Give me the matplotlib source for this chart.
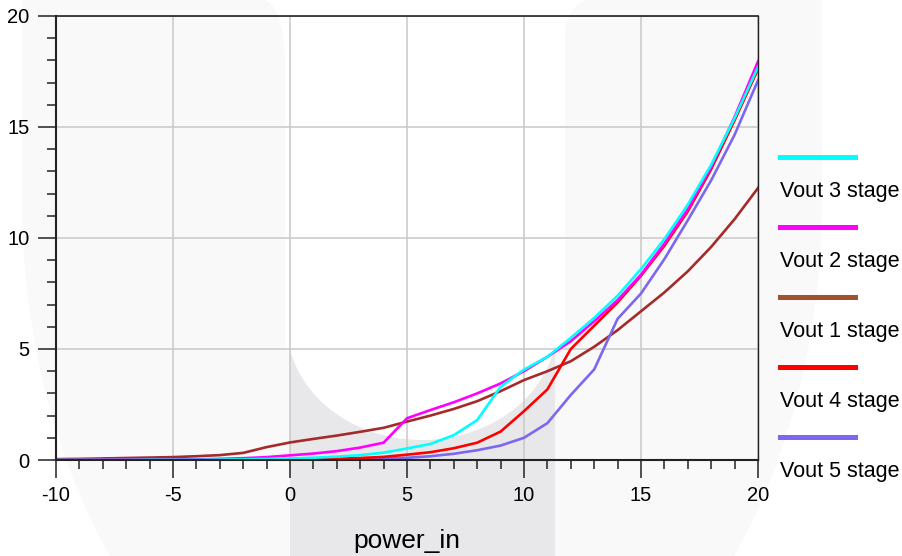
import matplotlib
matplotlib.use("Agg")
import matplotlib.pyplot as plt
from matplotlib.patches import Ellipse, Rectangle
from matplotlib.lines import Line2D

plt.rcParams['font.family'] = ['Liberation Sans', 'DejaVu Sans']
plt.rcParams['axes.unicode_minus'] = False

# data
power_in = list(range(-10, 21))

vout1 = [0.04, 0.05, 0.07, 0.09, 0.11, 0.13, 0.17, 0.22, 0.32, 0.58,
         0.79, 0.95, 1.1, 1.27, 1.45, 1.73, 2.0, 2.3, 2.65, 3.1,
         3.6, 4.0, 4.45, 5.1, 5.85, 6.7, 7.55, 8.5, 9.6, 10.85, 12.25]
vout2 = [0.0, 0.0, 0.01, 0.01, 0.01, 0.02, 0.03, 0.05, 0.08, 0.13,
         0.21, 0.29, 0.4, 0.56, 0.78, 1.88, 2.25, 2.6, 3.0, 3.45,
         4.0, 4.65, 5.35, 6.25, 7.2, 8.35, 9.75, 11.3, 13.2, 15.45, 17.95]
vout3 = [0.0, 0.0, 0.0, 0.0, 0.01, 0.01, 0.01, 0.02, 0.03, 0.05,
         0.07, 0.1, 0.15, 0.22, 0.33, 0.52, 0.72, 1.12, 1.8, 3.3,
         4.07, 4.65, 5.5, 6.4, 7.4, 8.6, 9.95, 11.5, 13.3, 15.4, 17.7]
vout4 = [0.0, 0.0, 0.0, 0.0, 0.0, 0.01, 0.01, 0.01, 0.02, 0.02,
         0.03, 0.04, 0.06, 0.09, 0.14, 0.24, 0.35, 0.53, 0.78, 1.28,
         2.2, 3.18, 5.0, 6.05, 7.1, 8.3, 9.65, 11.2, 13.1, 15.3, 17.6]
vout5 = [0.0, 0.0, 0.0, 0.0, 0.0, 0.0, 0.0, 0.01, 0.01, 0.01,
         0.01, 0.02, 0.03, 0.05, 0.07, 0.1, 0.17, 0.28, 0.44, 0.65,
         1.0, 1.66, 2.93, 4.08, 6.36, 7.5, 9.05, 10.8, 12.6, 14.65, 17.1]

series = [
    ("Vout 3 stage", vout3, "#00ffff", "#00ffff"),
    ("Vout 2 stage", vout2, "#ff00ff", "#ff00ff"),
    ("Vout 1 stage", vout1, "#a52a2a", "#a0522d"),
    ("Vout 4 stage", vout4, "#ff0000", "#ff0000"),
    ("Vout 5 stage", vout5, "#7b68ee", "#7b68ee"),
]
draw_order = [2, 4, 3, 1, 0]

W, H = 902, 556
fig = plt.figure(figsize=(W / 100, H / 100), dpi=100)

# faint watermark in the background (pixel coords)
bg = fig.add_axes([0, 0, 1, 1], zorder=-1)
bg.set_xlim(0, W)
bg.set_ylim(H, 0)
bg.axis("off")
light = "#f9f9f9"
bg.add_patch(Rectangle((22, -10), 800, 210, color=light, lw=0))
bg.add_patch(Ellipse((422, 200), 800, 1138, color=light, lw=0))
bg.add_patch(Rectangle((263, -10), 327, 360, color="white", lw=0))
# rounded inner top corners of the two bars
bg.add_patch(Rectangle((255, 60), 30, 300, color=light, lw=0))
bg.add_patch(Ellipse((263, 60), 44, 120, color=light, lw=0))
bg.add_patch(Rectangle((565, 35), 30, 320, color=light, lw=0))
bg.add_patch(Ellipse((590, 35), 50, 70, color=light, lw=0))
bg.add_patch(Rectangle((290, 340), 265, 230, color="#e8e8ea", lw=0))
bg.add_patch(Ellipse((422, 325), 270, 230, color="white", lw=0))

ax = fig.add_axes([56 / W, 1 - 460 / H, 702 / W, 444 / H], zorder=1)
ax.patch.set_alpha(0)

for i in draw_order:
    label, vals, color, _ = series[i]
    ax.plot(power_in, vals, color=color, lw=1.9, label=label, solid_joinstyle="miter")

ax.set_xlim(-10, 20)
ax.set_ylim(0, 20)
ax.set_xticks(range(-10, 21, 5))
ax.set_xticks(range(-10, 21), minor=True)
ax.set_yticks(range(0, 21, 5))
ax.set_yticks(range(0, 21), minor=True)
ax.tick_params(which="major", length=13, width=1.1, labelsize=14.5, pad=6, color="#222222")
ax.tick_params(which="minor", length=6.5, width=1.1, color="#222222")
ax.grid(True, which="major", color="#c8c8c8", lw=1.1)
for s in ax.spines.values():
    s.set_color("#222222")
ax.spines["left"].set_linewidth(1.5)
ax.spines["bottom"].set_linewidth(1.5)
ax.spines["top"].set_linewidth(1.2)
ax.spines["right"].set_linewidth(1.0)
ax.set_xlabel("power_in", fontsize=19, labelpad=17)

# legend: sample line with the label underneath
for k, (label, vals, _, lcolor) in enumerate(series):
    yl = 156.7 + 70 * k
    fig.add_artist(Line2D([780 / W, 855 / W], [1 - yl / H, 1 - yl / H],
                          color=lcolor, lw=3.6, transform=fig.transFigure))
    fig.text(780.5 / W, 1 - (yl + 35) / H, label, fontsize=15.5, va="center", ha="left")

fig.savefig("out.png", dpi=100)
